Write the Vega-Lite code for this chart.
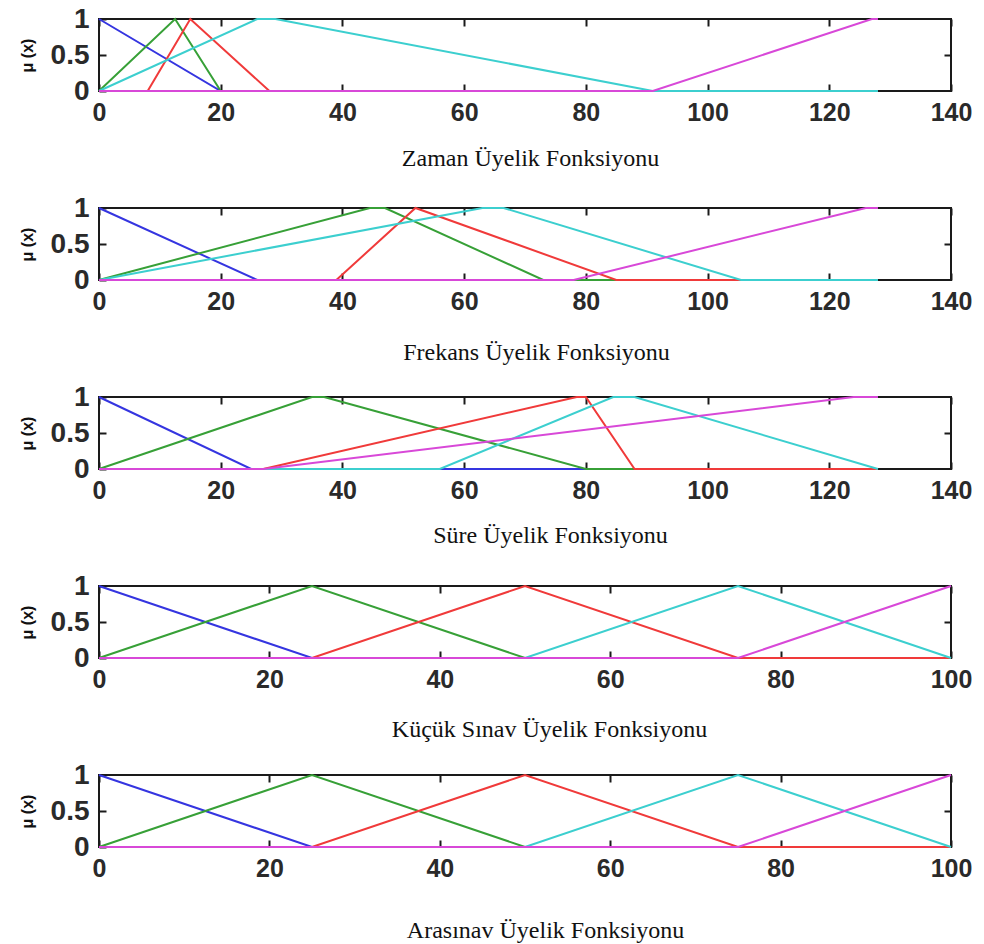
{
  "$schema": "https://vega.github.io/schema/vega-lite/v6.json",
  "background": "white",
  "padding": {"left": 18, "top": 4, "right": 10, "bottom": 0},
  "spacing": 117,
  "bounds": "flush",
  "config": {
    "view": {"stroke": "#1a1a1a", "strokeWidth": 2},
    "axis": {
      "grid": false, "domain": false, "ticks": true, "tickColor": "#1a1a1a", "tickWidth": 2, "tickSize": 7, "offset": -7, "zindex": 1,
      "labelFont": "Liberation Sans", "labelFontWeight": "bold", "labelColor": "#2a2a2a", "labelFontSize": 25,
      "labelFlush": false, "labelOverlap": false, "labelBound": false,
      "titleFont": "Liberation Serif", "titleFontWeight": "normal", "titleFontSize": 24, "titleColor": "#111111"
    },
    "axisX": {"labelPadding": 9},
    "axisY": {"labelPadding": 10, "labelFontSize": 28},
    "line": {"strokeWidth": 2, "clip": false}
  },
  "data": {"values": [
    {"panel":"A","mf":"mf1","x":0,"mu":1},{"panel":"A","mf":"mf1","x":20,"mu":0},{"panel":"A","mf":"mf1","x":128,"mu":0},
    {"panel":"A","mf":"mf2","x":0,"mu":0},{"panel":"A","mf":"mf2","x":12.5,"mu":1},{"panel":"A","mf":"mf2","x":20,"mu":0},{"panel":"A","mf":"mf2","x":128,"mu":0},
    {"panel":"A","mf":"mf3","x":0,"mu":0},{"panel":"A","mf":"mf3","x":8,"mu":0},{"panel":"A","mf":"mf3","x":15,"mu":1},{"panel":"A","mf":"mf3","x":28,"mu":0},{"panel":"A","mf":"mf3","x":128,"mu":0},
    {"panel":"A","mf":"mf4","x":0,"mu":0},{"panel":"A","mf":"mf4","x":26,"mu":1},{"panel":"A","mf":"mf4","x":29,"mu":1},{"panel":"A","mf":"mf4","x":91,"mu":0},{"panel":"A","mf":"mf4","x":128,"mu":0},
    {"panel":"A","mf":"mf5","x":0,"mu":0},{"panel":"A","mf":"mf5","x":91,"mu":0},{"panel":"A","mf":"mf5","x":127,"mu":1},{"panel":"A","mf":"mf5","x":128,"mu":1},

    {"panel":"B","mf":"mf1","x":0,"mu":1},{"panel":"B","mf":"mf1","x":26,"mu":0},{"panel":"B","mf":"mf1","x":128,"mu":0},
    {"panel":"B","mf":"mf2","x":0,"mu":0},{"panel":"B","mf":"mf2","x":44.5,"mu":1},{"panel":"B","mf":"mf2","x":47,"mu":1},{"panel":"B","mf":"mf2","x":73,"mu":0},{"panel":"B","mf":"mf2","x":128,"mu":0},
    {"panel":"B","mf":"mf3","x":0,"mu":0},{"panel":"B","mf":"mf3","x":39,"mu":0},{"panel":"B","mf":"mf3","x":52,"mu":1},{"panel":"B","mf":"mf3","x":85,"mu":0},{"panel":"B","mf":"mf3","x":128,"mu":0},
    {"panel":"B","mf":"mf4","x":0,"mu":0},{"panel":"B","mf":"mf4","x":63,"mu":1},{"panel":"B","mf":"mf4","x":66.5,"mu":1},{"panel":"B","mf":"mf4","x":105.5,"mu":0},{"panel":"B","mf":"mf4","x":128,"mu":0},
    {"panel":"B","mf":"mf5","x":0,"mu":0},{"panel":"B","mf":"mf5","x":78,"mu":0},{"panel":"B","mf":"mf5","x":126,"mu":1},{"panel":"B","mf":"mf5","x":128,"mu":1},

    {"panel":"C","mf":"mf1","x":0,"mu":1},{"panel":"C","mf":"mf1","x":25,"mu":0},{"panel":"C","mf":"mf1","x":128,"mu":0},
    {"panel":"C","mf":"mf2","x":0,"mu":0},{"panel":"C","mf":"mf2","x":35,"mu":1},{"panel":"C","mf":"mf2","x":37,"mu":1},{"panel":"C","mf":"mf2","x":80,"mu":0},{"panel":"C","mf":"mf2","x":128,"mu":0},
    {"panel":"C","mf":"mf3","x":0,"mu":0},{"panel":"C","mf":"mf3","x":27,"mu":0},{"panel":"C","mf":"mf3","x":78.5,"mu":1},{"panel":"C","mf":"mf3","x":80,"mu":1},{"panel":"C","mf":"mf3","x":88,"mu":0},{"panel":"C","mf":"mf3","x":128,"mu":0},
    {"panel":"C","mf":"mf4","x":0,"mu":0},{"panel":"C","mf":"mf4","x":56,"mu":0},{"panel":"C","mf":"mf4","x":84.5,"mu":1},{"panel":"C","mf":"mf4","x":88,"mu":1},{"panel":"C","mf":"mf4","x":128,"mu":0},
    {"panel":"C","mf":"mf5","x":0,"mu":0},{"panel":"C","mf":"mf5","x":27,"mu":0},{"panel":"C","mf":"mf5","x":124,"mu":1},{"panel":"C","mf":"mf5","x":128,"mu":1},

    {"panel":"D","mf":"mf1","x":0,"mu":1},{"panel":"D","mf":"mf1","x":25,"mu":0},{"panel":"D","mf":"mf1","x":100,"mu":0},
    {"panel":"D","mf":"mf2","x":0,"mu":0},{"panel":"D","mf":"mf2","x":25,"mu":1},{"panel":"D","mf":"mf2","x":50,"mu":0},{"panel":"D","mf":"mf2","x":100,"mu":0},
    {"panel":"D","mf":"mf3","x":0,"mu":0},{"panel":"D","mf":"mf3","x":25,"mu":0},{"panel":"D","mf":"mf3","x":50,"mu":1},{"panel":"D","mf":"mf3","x":75,"mu":0},{"panel":"D","mf":"mf3","x":100,"mu":0},
    {"panel":"D","mf":"mf4","x":0,"mu":0},{"panel":"D","mf":"mf4","x":50,"mu":0},{"panel":"D","mf":"mf4","x":75,"mu":1},{"panel":"D","mf":"mf4","x":100,"mu":0},
    {"panel":"D","mf":"mf5","x":0,"mu":0},{"panel":"D","mf":"mf5","x":75,"mu":0},{"panel":"D","mf":"mf5","x":100,"mu":1},

    {"panel":"E","mf":"mf1","x":0,"mu":1},{"panel":"E","mf":"mf1","x":25,"mu":0},{"panel":"E","mf":"mf1","x":100,"mu":0},
    {"panel":"E","mf":"mf2","x":0,"mu":0},{"panel":"E","mf":"mf2","x":25,"mu":1},{"panel":"E","mf":"mf2","x":50,"mu":0},{"panel":"E","mf":"mf2","x":100,"mu":0},
    {"panel":"E","mf":"mf3","x":0,"mu":0},{"panel":"E","mf":"mf3","x":25,"mu":0},{"panel":"E","mf":"mf3","x":50,"mu":1},{"panel":"E","mf":"mf3","x":75,"mu":0},{"panel":"E","mf":"mf3","x":100,"mu":0},
    {"panel":"E","mf":"mf4","x":0,"mu":0},{"panel":"E","mf":"mf4","x":50,"mu":0},{"panel":"E","mf":"mf4","x":75,"mu":1},{"panel":"E","mf":"mf4","x":100,"mu":0},
    {"panel":"E","mf":"mf5","x":0,"mu":0},{"panel":"E","mf":"mf5","x":75,"mu":0},{"panel":"E","mf":"mf5","x":100,"mu":1}
  ]},
  "vconcat": [
    {
      "width": 852, "height": 72,
      "transform": [{"filter": "datum.panel === 'A'"}],
      "layer": [
        {"mark": "line", "encoding": {
          "x": {"field": "x", "type": "quantitative", "scale": {"domain": [0, 140], "nice": false, "zero": false}, "axis": {"values": [0,20,40,60,80,100,120,140], "title": "Zaman Üyelik Fonksiyonu", "titlePadding": 21, "titleX": 431}},
          "y": {"field": "mu", "type": "quantitative", "scale": {"domain": [0, 1], "nice": false}, "axis": {"values": [0, 0.5, 1], "format": "~g", "title": "μ (x)", "titleFont": "Liberation Sans", "titleFontWeight": "bold", "titleFontSize": 16, "titlePadding": 15}},
          "color": {"field": "mf", "type": "nominal", "scale": {"domain": ["mf1","mf2","mf3","mf4","mf5"], "range": ["#3535e0","#37a037","#f03a3a","#3ccfcf","#d848d8"]}, "legend": null}
        }},
        {"mark": {"type": "line", "opacity": 0}, "encoding": {
          "x": {"field": "x", "type": "quantitative", "axis": {"orient": "top", "values": [0,20,40,60,80,100,120,140], "labels": false, "title": null}},
          "y": {"field": "mu", "type": "quantitative", "axis": {"orient": "right", "values": [0.5], "labels": false, "title": null}},
          "detail": {"field": "mf"}
        }}
      ],
      "resolve": {"axis": {"x": "independent", "y": "independent"}}
    },
    {
      "width": 852, "height": 72,
      "transform": [{"filter": "datum.panel === 'B'"}],
      "layer": [
        {"mark": "line", "encoding": {
          "x": {"field": "x", "type": "quantitative", "scale": {"domain": [0, 140], "nice": false, "zero": false}, "axis": {"values": [0,20,40,60,80,100,120,140], "title": "Frekans Üyelik Fonksiyonu", "titlePadding": 26, "titleX": 437}},
          "y": {"field": "mu", "type": "quantitative", "scale": {"domain": [0, 1], "nice": false}, "axis": {"values": [0, 0.5, 1], "format": "~g", "title": "μ (x)", "titleFont": "Liberation Sans", "titleFontWeight": "bold", "titleFontSize": 16, "titlePadding": 15}},
          "color": {"field": "mf", "type": "nominal", "scale": {"domain": ["mf1","mf2","mf3","mf4","mf5"], "range": ["#3535e0","#37a037","#f03a3a","#3ccfcf","#d848d8"]}, "legend": null}
        }},
        {"mark": {"type": "line", "opacity": 0}, "encoding": {
          "x": {"field": "x", "type": "quantitative", "axis": {"orient": "top", "values": [0,20,40,60,80,100,120,140], "labels": false, "title": null}},
          "y": {"field": "mu", "type": "quantitative", "axis": {"orient": "right", "values": [0.5], "labels": false, "title": null}},
          "detail": {"field": "mf"}
        }}
      ],
      "resolve": {"axis": {"x": "independent", "y": "independent"}}
    },
    {
      "width": 852, "height": 72,
      "transform": [{"filter": "datum.panel === 'C'"}],
      "layer": [
        {"mark": "line", "encoding": {
          "x": {"field": "x", "type": "quantitative", "scale": {"domain": [0, 140], "nice": false, "zero": false}, "axis": {"values": [0,20,40,60,80,100,120,140], "title": "Süre Üyelik Fonksiyonu", "titlePadding": 20, "titleX": 451}},
          "y": {"field": "mu", "type": "quantitative", "scale": {"domain": [0, 1], "nice": false}, "axis": {"values": [0, 0.5, 1], "format": "~g", "title": "μ (x)", "titleFont": "Liberation Sans", "titleFontWeight": "bold", "titleFontSize": 16, "titlePadding": 15}},
          "color": {"field": "mf", "type": "nominal", "scale": {"domain": ["mf1","mf2","mf3","mf4","mf5"], "range": ["#3535e0","#37a037","#f03a3a","#3ccfcf","#d848d8"]}, "legend": null}
        }},
        {"mark": {"type": "line", "opacity": 0}, "encoding": {
          "x": {"field": "x", "type": "quantitative", "axis": {"orient": "top", "values": [0,20,40,60,80,100,120,140], "labels": false, "title": null}},
          "y": {"field": "mu", "type": "quantitative", "axis": {"orient": "right", "values": [0.5], "labels": false, "title": null}},
          "detail": {"field": "mf"}
        }}
      ],
      "resolve": {"axis": {"x": "independent", "y": "independent"}}
    },
    {
      "width": 852, "height": 72,
      "transform": [{"filter": "datum.panel === 'D'"}],
      "layer": [
        {"mark": "line", "encoding": {
          "x": {"field": "x", "type": "quantitative", "scale": {"domain": [0, 100], "nice": false, "zero": false}, "axis": {"values": [0,20,40,60,80,100], "title": "Küçük Sınav Üyelik Fonksiyonu", "titlePadding": 25, "titleX": 450}},
          "y": {"field": "mu", "type": "quantitative", "scale": {"domain": [0, 1], "nice": false}, "axis": {"values": [0, 0.5, 1], "format": "~g", "title": "μ (x)", "titleFont": "Liberation Sans", "titleFontWeight": "bold", "titleFontSize": 16, "titlePadding": 15}},
          "color": {"field": "mf", "type": "nominal", "scale": {"domain": ["mf1","mf2","mf3","mf4","mf5"], "range": ["#3535e0","#37a037","#f03a3a","#3ccfcf","#d848d8"]}, "legend": null}
        }},
        {"mark": {"type": "line", "opacity": 0}, "encoding": {
          "x": {"field": "x", "type": "quantitative", "axis": {"orient": "top", "values": [0,20,40,60,80,100], "labels": false, "title": null}},
          "y": {"field": "mu", "type": "quantitative", "axis": {"orient": "right", "values": [0.5], "labels": false, "title": null}},
          "detail": {"field": "mf"}
        }}
      ],
      "resolve": {"axis": {"x": "independent", "y": "independent"}}
    },
    {
      "width": 852, "height": 72,
      "transform": [{"filter": "datum.panel === 'E'"}],
      "layer": [
        {"mark": "line", "encoding": {
          "x": {"field": "x", "type": "quantitative", "scale": {"domain": [0, 100], "nice": false, "zero": false}, "axis": {"values": [0,20,40,60,80,100], "title": "Arasınav Üyelik Fonksiyonu", "titlePadding": 37, "titleX": 446}},
          "y": {"field": "mu", "type": "quantitative", "scale": {"domain": [0, 1], "nice": false}, "axis": {"values": [0, 0.5, 1], "format": "~g", "title": "μ (x)", "titleFont": "Liberation Sans", "titleFontWeight": "bold", "titleFontSize": 16, "titlePadding": 15}},
          "color": {"field": "mf", "type": "nominal", "scale": {"domain": ["mf1","mf2","mf3","mf4","mf5"], "range": ["#3535e0","#37a037","#f03a3a","#3ccfcf","#d848d8"]}, "legend": null}
        }},
        {"mark": {"type": "line", "opacity": 0}, "encoding": {
          "x": {"field": "x", "type": "quantitative", "axis": {"orient": "top", "values": [0,20,40,60,80,100], "labels": false, "title": null}},
          "y": {"field": "mu", "type": "quantitative", "axis": {"orient": "right", "values": [0.5], "labels": false, "title": null}},
          "detail": {"field": "mf"}
        }}
      ],
      "resolve": {"axis": {"x": "independent", "y": "independent"}}
    }
  ]
}
